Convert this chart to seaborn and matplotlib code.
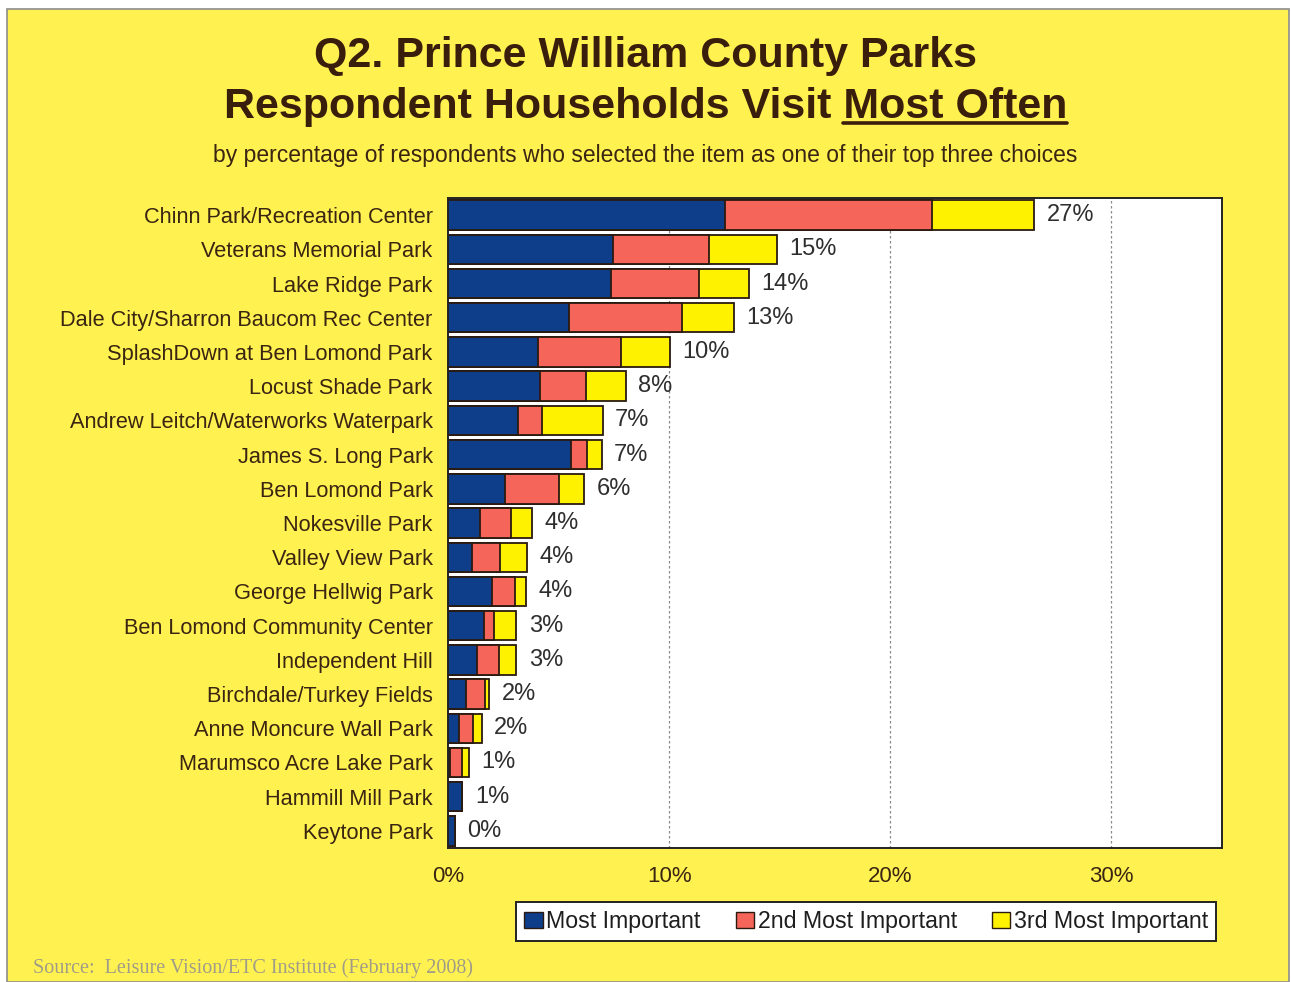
import numpy as np
import pandas as pd
import matplotlib
matplotlib.use("Agg")
import matplotlib.pyplot as plt
from matplotlib.patches import Patch, Rectangle
import seaborn as sns

parks = ['Chinn Park/Recreation Center', 'Veterans Memorial Park', 'Lake Ridge Park',
         'Dale City/Sharron Baucom Rec Center', 'SplashDown at Ben Lomond Park',
         'Locust Shade Park', 'Andrew Leitch/Waterworks Waterpark', 'James S. Long Park',
         'Ben Lomond Park', 'Nokesville Park', 'Valley View Park', 'George Hellwig Park',
         'Ben Lomond Community Center', 'Independent Hill', 'Birchdale/Turkey Fields',
         'Anne Moncure Wall Park', 'Marumsco Acre Lake Park', 'Hammill Mill Park',
         'Keytone Park']
most = [12.54, 7.46, 7.37, 5.45, 4.08, 4.14, 3.17, 5.56, 2.56, 1.46,
        1.09, 1.98, 1.61, 1.31, 0.81, 0.52, 0.10, 0.65, 0.30]
second = [9.35, 4.35, 3.97, 5.15, 3.76, 2.11, 1.06, 0.71, 2.47, 1.39,
          1.28, 1.06, 0.45, 0.98, 0.85, 0.60, 0.53, 0.0, 0.0]
third = [4.61, 3.07, 2.26, 2.32, 2.19, 1.78, 2.76, 0.68, 1.11, 0.95,
         1.20, 0.50, 1.02, 0.80, 0.21, 0.40, 0.31, 0.0, 0.0]
shown = ['27%', '15%', '14%', '13%', '10%', '8%', '7%', '7%', '6%', '4%',
         '4%', '4%', '3%', '3%', '2%', '2%', '1%', '1%', '0%']
series = ['Most Important', '2nd Most Important', '3rd Most Important']
xticks = [0, 10, 20, 30]

sns.set_style("white")
plt.rcParams['font.family'] = ['Liberation Sans', 'DejaVu Sans']

bg = '#FFF250'
colors = ['#0E3D8A', '#F5655A', '#FFF200']
txt = '#3A2412'
edge = '#2A1A10'

df = pd.DataFrame({'park': parks, 'm': most, 's': second, 't': third})
df['c1'] = df['m']
df['c2'] = df['m'] + df['s']
df['c3'] = df['c2'] + df['t']

W, H = 1291, 982
fig = plt.figure(figsize=(W / 100, H / 100), dpi=100, facecolor='white')
fig.patches.append(Rectangle((7 / W, 0), (1289 - 7) / W, 1 - 9 / H, transform=fig.transFigure,
                             facecolor=bg, edgecolor='#8C8C8C', linewidth=1.2, zorder=-10))

ax = fig.add_axes([448 / W, 1 - 848 / H, (1222 - 448) / W, (848 - 198) / H])
ax.set_facecolor('white')
for x in xticks[1:]:
    ax.axvline(x, color='#8A8A8A', linestyle=(0, (2, 2)), linewidth=0.9, zorder=0)

# layered cumulative bars -> stacked look
for col, cc in zip(['c3', 'c2', 'c1'], colors[::-1]):
    sns.barplot(data=df, x=col, y='park', orient='h', color=cc, width=0.86,
                edgecolor=edge, linewidth=1.3, saturation=1, ax=ax, zorder=2)

for i, (tot, lab) in enumerate(zip(df['c3'], shown)):
    ax.annotate(lab, xy=(tot, i), xytext=(9, 0), textcoords='offset points',
                ha='left', va='center', fontsize=17, color='#2E2E2E')

ax.set_xlim(0, 35)
ax.set_xticks(xticks)
ax.set_xticklabels([f'{v}%' for v in xticks])
ax.set_xlabel('')
ax.set_ylabel('')
ax.tick_params(axis='x', length=0, pad=13, labelsize=16, labelcolor=txt)
ax.tick_params(axis='y', length=0, pad=11, labelsize=15.7, labelcolor=txt)
for sp in ax.spines.values():
    sp.set_visible(True)
    sp.set_color('#222222')
    sp.set_linewidth(1.4)

fig.text(0.5, 1 - 67 / H, 'Q2. Prince William County Parks', ha='center', va='baseline',
         fontsize=31, fontweight='bold', color='#3A1E0C')
line2 = fig.text(0.5, 1 - 118 / H, 'Respondent Households Visit Most Often', ha='center',
                 va='baseline', fontsize=31, fontweight='bold', color='#3A1E0C')
fig.text(0.5, 1 - 162 / H,
         'by percentage of respondents who selected the item as one of their top three choices',
         ha='center', va='baseline', fontsize=16.5, color=txt)

# underline "Most Often"
fig.canvas.draw()
r = fig.canvas.get_renderer()
full = line2.get_window_extent(r)
tmp = fig.text(0, 0, 'Most Often', fontsize=31, fontweight='bold')
wpart = tmp.get_window_extent(r).width
tmp.remove()
uy = (H - 123) / H
fig.add_artist(plt.Line2D([(full.x1 - wpart) / W, full.x1 / W], [uy, uy],
                          transform=fig.transFigure, color='#3A1E0C', linewidth=2.6))

handles = [Patch(facecolor=c, edgecolor=edge, linewidth=1.0) for c in colors]
leg = fig.legend(handles, series, loc='upper right', bbox_to_anchor=(1216 / W, 1 - 902 / H),
                 ncol=3, fontsize=16.7, frameon=True, fancybox=False, handlelength=0.8,
                 handleheight=0.7, handletextpad=0.15, columnspacing=1.5, borderpad=0.35,
                 borderaxespad=0, framealpha=1, facecolor='white')
leg.get_frame().set_edgecolor('#222222')
leg.get_frame().set_linewidth(1.4)
for t in leg.get_texts():
    t.set_color('#1E1E1E')

fig.text(33 / W, 1 - 973 / H, 'Source:  Leisure Vision/ETC Institute (February 2008)',
         ha='left', va='baseline', fontsize=14.5, color='#A09C88',
         family=['Liberation Serif', 'DejaVu Serif'])

fig.savefig('out.png', dpi=100, facecolor=fig.get_facecolor())
